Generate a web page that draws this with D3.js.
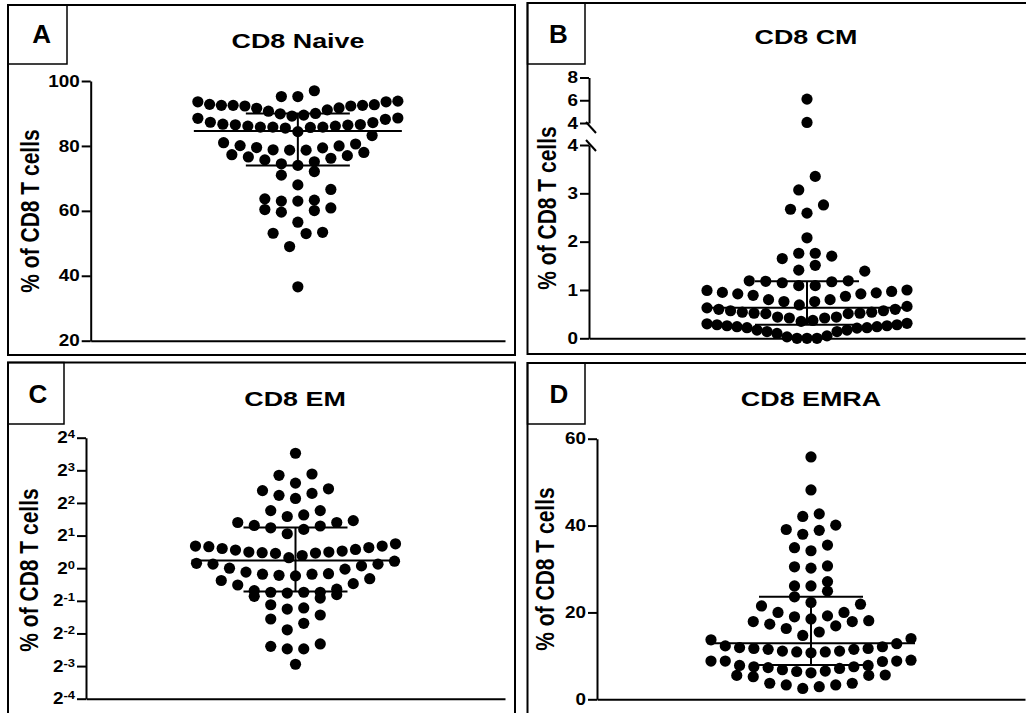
<!DOCTYPE html>
<html>
<head>
<meta charset="utf-8">
<script src="https://cdn.jsdelivr.net/npm/d3@7"></script>
<style>
  body { margin: 0; background: #fff; }
  svg { display: block; font-family: "Liberation Sans", Arial, sans-serif; font-weight: bold; }
</style>
</head>
<body>
<svg width="1026" height="713"></svg>
<script>
// values (% of CD8 T cells)
const panelLetters = ["A", "B", "C", "D"]
const panelTitles = ["CD8 Naive", "CD8 CM", "CD8 EM", "CD8 EMRA"]
const yLabel = "% of CD8 T cells"

const naive = [97.0, 95.2, 95.2,
  93.8, 93.6, 92.7, 92.5, 92.3, 91.7, 91.1, 90.0, 89.5, 89.9, 90.7, 91.6, 92.3, 92.5, 92.5, 92.8, 93.6,
  89.2, 88.6, 87.3, 86.5, 86.6, 86.1, 85.8, 85.8, 85.5, 84.4, 85.7, 85.8, 86.1, 86.4, 86.7, 87.2, 88.2, 88.5,
  83.2,
  78.7, 81.0, 77.3, 80.1, 76.6, 75.7, 79.5, 74.5, 78.8, 72.1, 74.0, 79.4, 71.0, 80.0, 75.1, 76.2, 80.6, 77.0, 78.0, 78.7,
  68.0, 66.6, 63.7, 60.9, 63.0, 60.1, 63.0, 59.6, 63.3, 60.4, 56.5, 53.4, 53.0, 53.1, 49.0, 36.6]

const cm = [6.1, 4.05, 3.35, 3.07, 2.76, 2.59, 2.67, 2.08, 1.65, 1.76, 1.76, 1.70, 1.39, 1.41, 1.51,
  1.19, 1.17, 1.09, 1.09, 1.15, 1.18, 1.19,
  0.99, 0.95, 0.92, 0.89, 0.80, 0.76, 0.69, 0.76, 0.80, 0.87, 0.92, 0.94, 0.97, 1.00,
  0.66, 0.60, 0.57, 0.54, 0.52, 0.51, 0.44, 0.42, 0.37, 0.35, 0.42, 0.44, 0.51, 0.52, 0.54, 0.57, 0.60, 0.63,
  0.31, 0.28, 0.26, 0.24, 0.22, 0.17, 0.14, 0.10, 0.05, 0.0, 0.0, 0.0, 0.03, 0.14, 0.17, 0.21, 0.22, 0.24, 0.26, 0.28, 0.30]

const em = [11.5, 7.2, 7.4, 6.1, 5.2, 4.7, 4.4, 4.9, 5.4, 3.4, 3.0, 3.1, 3.4,
  2.75, 2.64, 2.45, 2.28, 2.08, 2.36, 2.48, 2.64,
  1.60, 1.58, 1.52, 1.47, 1.41, 1.39, 1.37, 1.25, 1.31, 1.38, 1.41, 1.44, 1.49, 1.55, 1.60, 1.68,
  1.11, 1.09, 1.00, 0.92, 0.88, 0.86, 0.85, 0.88, 0.89, 0.98, 1.05, 1.09, 1.16,
  0.80, 0.72, 0.64, 0.57, 0.53, 0.60, 0.60, 0.60, 0.55, 0.62, 0.59, 0.70, 0.77,
  0.43, 0.42, 0.46, 0.37, 0.34, 0.31, 0.27, 0.20, 0.18, 0.19, 0.18, 0.13]

const emra = [55.8, 48.2, 42.7, 42.1, 40.1, 39.1, 38.0, 38.9, 34.9, 34.2, 35.5, 30.5, 30.2, 30.7,
  26.1, 27.1, 24.9, 26.1,
  23.6, 22.3, 21.9, 21.5, 20.0, 19.2, 18.5, 19.0, 20.0, 18.1, 17.9, 16.9, 17.3, 17.9, 15.5, 14.7, 16.3,
  14.0, 12.8, 12.1, 11.7, 11.5, 11.1, 10.9, 10.7, 10.9, 11.1, 11.5, 11.7, 11.9, 12.3, 13.7,
  8.8, 8.8, 7.8, 7.5, 7.3, 6.8, 6.4, 6.1, 6.5, 7.1, 7.5, 7.8, 8.7, 8.8, 9.0,
  5.5, 5.2, 5.5, 5.6, 3.7, 3.3, 2.5, 2.9, 3.3, 3.7]

// median and interquartile range bars
const medians = [84.6, 0.63, 1.18, 12.9]
const lowerQuartiles = [74.0, 0.28, 0.61, 7.9]
const upperQuartiles = [90.0, 1.18, 2.38, 23.6]

const naiveTicks = [20, 40, 60, 80, 100]
const cmLowTicks = [0, 1, 2, 3, 4]
const cmHighTicks = [4, 6, 8]
const emTickPowers = [-4, -3, -2, -1, 0, 1, 2, 3, 4]
const emraTicks = [0, 20, 40, 60]

const svg = d3.select("svg")

const R = 5.6, BIN = 15, STEP = 16.5, MAXW = 200
const TICK = 9, PAD = 2, NUM_STRETCH = 1.18
const fmt = d3.format("d")

// Prism-like scatter: group close values in rows, lowest value in the middle
function swarm(values, y, cx) {
  const pts = values.map(v => ({ v: v, y: y(v) })).sort((a, b) => b.y - a.y)
  const bins = []
  pts.forEach(p => {
    const last = bins[bins.length - 1]
    if (last && last[0].y - p.y <= BIN) last.push(p)
    else bins.push([p])
  })
  bins.forEach(bin => {
    const n = bin.length
    const step = n > 1 ? Math.min(STEP, MAXW / (n - 1)) : 0
    const slots = d3.range(n).map(i => (i - (n - 1) / 2) * step)
    slots.sort((a, b) => Math.abs(a) - Math.abs(b) || a - b)
    bin.forEach((p, i) => { p.x = cx + slots[i] })
  })
  return pts
}

function styleAxis(g) {
  g.attr("font-family", null).attr("font-size", 16)
  g.selectAll("path, line").attr("stroke", "#000").attr("stroke-width", 2)
  g.selectAll("text")
    .attr("fill", "#000")
    .attr("x", -(TICK + PAD) / NUM_STRETCH)
    .attr("transform", `scale(${NUM_STRETCH},1)`)
}

const panels = [
  { values: naive, box: [8, 5, 507, 350], lbox: [8, 5, 59, 59], letter: [41.7, 43.3],
    title: [298, 47.5], ylab: [30, 211], x0: 90.7, x1: 505 },
  { values: cm, box: [527.5, 3, 510, 351], lbox: [527.5, 3, 57.5, 61], letter: [558.5, 42.7],
    title: [806, 44.3], ylab: [547, 208], x0: 589, x1: 1025 },
  { values: em, box: [8, 362.5, 507, 400], lbox: [8, 362.5, 56, 61.5], letter: [38, 402.7],
    title: [295, 406], ylab: [29, 570], x0: 86, x1: 505 },
  { values: emra, box: [527.5, 363, 510, 400], lbox: [527.5, 363, 57.5, 61], letter: [559, 402.7],
    title: [811, 406], ylab: [545, 569], x0: 597, x1: 1025 }
]

// y scales
const yNaive = d3.scaleLinear().domain([20, 100]).range([340.7, 81])
const yCmLow = d3.scaleLinear().domain([0, 4]).range([338.3, 145])
const yCmHigh = d3.scaleLinear().domain([4, 8]).range([123, 77.5])
const yCm = v => v <= 4 ? yCmLow(v) : yCmHigh(v)
const yEm = d3.scaleLog().base(2).domain([1 / 16, 16]).range([698.7, 437.7])
const yEmra = d3.scaleLinear().domain([0, 60]).range([699.3, 438.7])
const yFns = [yNaive, yCm, yEm, yEmra]
const baseY = [340.7, 338.3, 698.7, 699.3]

panels.forEach((p, i) => {
  const g = svg.append("g")

  g.append("rect")
    .attr("x", p.box[0]).attr("y", p.box[1])
    .attr("width", p.box[2]).attr("height", p.box[3])
    .attr("fill", "none").attr("stroke", "#000").attr("stroke-width", 2)

  g.append("rect")
    .attr("x", p.lbox[0]).attr("y", p.lbox[1])
    .attr("width", p.lbox[2]).attr("height", p.lbox[3])
    .attr("fill", "none").attr("stroke", "#000").attr("stroke-width", 1.5)

  g.append("text")
    .attr("x", p.letter[0]).attr("y", p.letter[1])
    .attr("text-anchor", "middle").attr("font-size", 26)
    .text(panelLetters[i])

  g.append("text")
    .attr("transform", `translate(${p.title[0]},${p.title[1]}) scale(1.28,1)`)
    .attr("text-anchor", "middle").attr("font-size", 21)
    .text(panelTitles[i])

  g.append("text")
    .attr("transform", `translate(${p.ylab[0]},${p.ylab[1]}) scale(1.2,1) rotate(-90)`)
    .attr("text-anchor", "middle").attr("dy", "0.36em").attr("font-size", 21)
    .text(yLabel)

  const x = d3.scalePoint().domain([panelTitles[i]]).range([p.x0, p.x1]).padding(0.5)
  const cx = x(panelTitles[i])
  const y = yFns[i]

  // x axis (no ticks)
  g.append("g")
    .attr("transform", `translate(0,${baseY[i]})`)
    .call(d3.axisBottom(x).tickValues([]).tickSizeOuter(0))
    .call(styleAxis)

  // y axis
  if (i === 0) {
    g.append("g").attr("transform", `translate(${p.x0},0)`)
      .call(d3.axisLeft(yNaive).tickValues(naiveTicks).tickFormat(fmt)
        .tickSize(TICK).tickPadding(PAD).tickSizeOuter(0))
      .call(styleAxis)
  } else if (i === 1) {
    g.append("g").attr("transform", `translate(${p.x0},0)`)
      .call(d3.axisLeft(yCmLow).tickValues(cmLowTicks).tickFormat(fmt)
        .tickSize(TICK).tickPadding(PAD).tickSizeOuter(0))
      .call(styleAxis)
    g.append("g").attr("transform", `translate(${p.x0},0)`)
      .call(d3.axisLeft(yCmHigh).tickValues(cmHighTicks).tickFormat(fmt)
        .tickSize(TICK).tickPadding(PAD).tickSizeOuter(0))
      .call(styleAxis)
    // break marks
    ;[[yCmHigh(4) - 1, yCmHigh(4) + 10], [yCmLow(4) - 5, yCmLow(4) + 6]].forEach(s => {
      g.append("line")
        .attr("x1", p.x0 - 3).attr("y1", s[0])
        .attr("x2", p.x0 + 7).attr("y2", s[1])
        .attr("stroke", "#000").attr("stroke-width", 2)
    })
  } else if (i === 2) {
    const ax = g.append("g").attr("transform", `translate(${p.x0},0)`)
      .call(d3.axisLeft(yEm).tickValues(emTickPowers.map(k => Math.pow(2, k)))
        .tickFormat(() => "").tickSize(TICK).tickPadding(PAD).tickSizeOuter(0))
      .call(styleAxis)
    ax.selectAll(".tick text").each(function (d, k) {
      const t = d3.select(this).attr("font-size", 16)
      t.append("tspan").text("2")
      t.append("tspan").attr("dy", "-0.45em").attr("font-size", 11).text(emTickPowers[k])
    })
  } else {
    g.append("g").attr("transform", `translate(${p.x0},0)`)
      .call(d3.axisLeft(yEmra).tickValues(emraTicks).tickFormat(fmt)
        .tickSize(TICK).tickPadding(PAD).tickSizeOuter(0))
      .call(styleAxis)
  }

  // dots
  g.append("g").selectAll("circle")
    .data(swarm(p.values, y, cx))
    .enter()
    .append("circle")
    .attr("cx", d => d.x)
    .attr("cy", d => d.y)
    .attr("r", R)
    .attr("fill", "#000")

  // median with interquartile range
  const bars = g.append("g").attr("stroke", "#000").attr("stroke-width", 2)
  bars.append("line")
    .attr("x1", cx - 104).attr("x2", cx + 104)
    .attr("y1", y(medians[i])).attr("y2", y(medians[i]))
  ;[lowerQuartiles[i], upperQuartiles[i]].forEach(q => {
    bars.append("line")
      .attr("x1", cx - 52).attr("x2", cx + 52)
      .attr("y1", y(q)).attr("y2", y(q))
  })
  bars.append("line")
    .attr("x1", cx).attr("x2", cx)
    .attr("y1", y(lowerQuartiles[i])).attr("y2", y(upperQuartiles[i]))
})
</script>
</body>
</html>
